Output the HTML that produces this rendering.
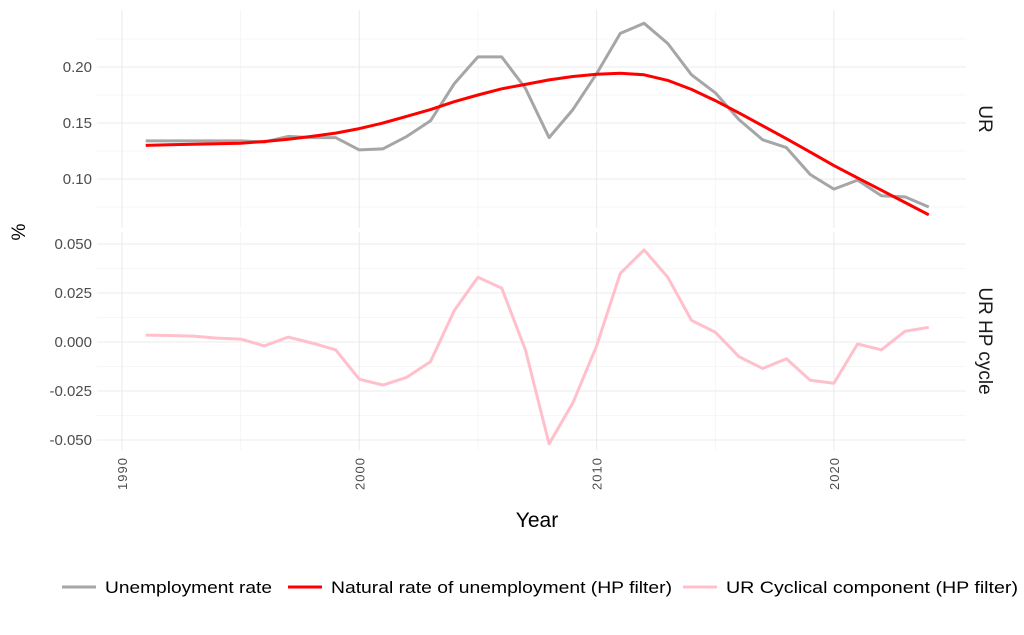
<!DOCTYPE html>
<html><head><meta charset="utf-8"><style>
body{margin:0;background:#fff;}
svg{font-family:"Liberation Sans",Arial,sans-serif;}
</style></head><body>
<svg id="c" width="1024" height="630" xmlns="http://www.w3.org/2000/svg"></svg>
<script>
const yrs=[];for(let y=1991;y<=2024;y++)yrs.push(y);
const ur=[.134,.134,.134,.134,.134,.133,.138,.137,.137,.126,.127,.138,.152,.185,.209,.209,.181,.137,.162,.194,.230,.239,.221,.193,.177,.153,.135,.128,.104,.091,.099,.085,.084,.075];
const cy=[.0035,.0033,.003,.002,.0015,-.002,.0025,-.0005,-.004,-.019,-.022,-.018,-.010,.016,.033,.0275,-.004,-.052,-.031,-.002,.035,.047,.033,.011,.005,-.0075,-.0135,-.0085,-.0195,-.021,-.001,-.004,.0055,.0075];
const tr=[.130,.1305,.131,.1315,.132,.1335,.1355,.138,.141,.145,.150,.156,.162,.169,.175,.1805,.1845,.1885,.1915,.1935,.1945,.193,.188,.180,.170,.159,.1475,.136,.124,.112,.101,.090,.079,.068];
const X=y=>122+(y-1990)*23.73;
const Y1=v=>67+(0.20-v)*1120;
const Y2=v=>342-v*1960;
let s='';
const L=97,R=966;
for(let v=0.075;v<=0.225;v+=0.05)s+=`<line x1="${L}" x2="${R}" y1="${Y1(v)}" y2="${Y1(v)}" stroke="#f0f0f0" stroke-width="0.6"/>`;
for(const v of [0.10,0.15,0.20])s+=`<line x1="${L}" x2="${R}" y1="${Y1(v)}" y2="${Y1(v)}" stroke="#ebebeb" stroke-width="1.1"/>`;
for(let v=-0.0375;v<=0.04;v+=0.025)s+=`<line x1="${L}" x2="${R}" y1="${Y2(v)}" y2="${Y2(v)}" stroke="#f0f0f0" stroke-width="0.6"/>`;
for(const v of [-0.05,-0.025,0,0.025,0.05])s+=`<line x1="${L}" x2="${R}" y1="${Y2(v)}" y2="${Y2(v)}" stroke="#ebebeb" stroke-width="1.1"/>`;
for(const [a,b] of [[10,228],[232,450]]){
 for(const y of [1995,2005,2015])s+=`<line x1="${X(y)}" x2="${X(y)}" y1="${a}" y2="${b}" stroke="#f0f0f0" stroke-width="0.6"/>`;
 for(const y of [1990,2000,2010,2020])s+=`<line x1="${X(y)}" x2="${X(y)}" y1="${a}" y2="${b}" stroke="#ebebeb" stroke-width="1.1"/>`;
}
const pl=(arr,f,c)=>`<polyline fill="none" stroke="${c}" stroke-width="3" stroke-linejoin="round" points="${arr.map((v,i)=>X(yrs[i]).toFixed(1)+','+f(v).toFixed(1)).join(' ')}"/>`;
s+=pl(ur,Y1,'#a6a6a6')+pl(tr,Y1,'#ff0000')+pl(cy,Y2,'#ffc0cb');
for(const [v,t] of [[0.20,'0.20'],[0.15,'0.15'],[0.10,'0.10']])s+=`<text x="92" y="${Y1(v)+5}" text-anchor="end" font-size="15" fill="#4d4d4d">${t}</text>`;
for(const [v,t] of [[0.05,'0.050'],[0.025,'0.025'],[0,'0.000'],[-0.025,'-0.025'],[-0.05,'-0.050']])s+=`<text x="92" y="${Y2(v)+5}" text-anchor="end" font-size="15" fill="#4d4d4d">${t}</text>`;
for(const y of [1990,2000,2010,2020])s+=`<text transform="translate(${X(y)+5},458) rotate(-90)" text-anchor="end" font-size="13" fill="#4d4d4d" textLength="32">${y}</text>`;
s+=`<text transform="translate(979,119) rotate(90)" text-anchor="middle" font-size="19" fill="#1a1a1a">UR</text>`;
s+=`<text transform="translate(979,341) rotate(90)" text-anchor="middle" font-size="19" fill="#1a1a1a">UR HP cycle</text>`;
s+=`<text transform="translate(25,232) rotate(-90)" text-anchor="middle" font-size="19" fill="#000">%</text>`;
s+=`<text x="537" y="527" text-anchor="middle" font-size="21" fill="#000">Year</text>`;
const lg=[[62,'#a6a6a6','Unemployment rate',105,167],[288,'#ff0000','Natural rate of unemployment (HP filter)',331,341],[683,'#ffc0cb','UR Cyclical component (HP filter)',726,292]];
for(const [x,c,t,tx,w] of lg)s+=`<line x1="${x}" x2="${x+34}" y1="587" y2="587" stroke="${c}" stroke-width="3"/><text x="${tx}" y="593" font-size="17" fill="#000" textLength="${w}" lengthAdjust="spacingAndGlyphs">${t}</text>`;
document.getElementById('c').innerHTML=s;
</script>
</body></html>
